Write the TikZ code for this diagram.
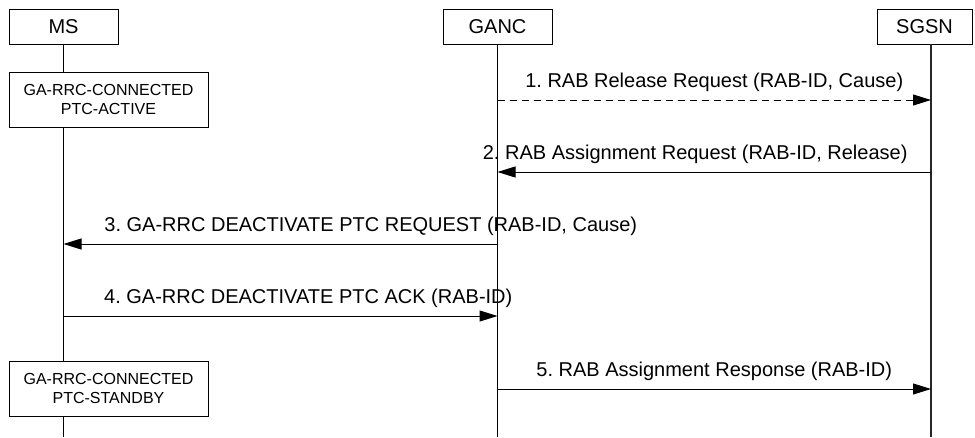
\documentclass[tikz,border=0pt]{standalone}
\usepackage{fontspec}
\setmainfont{Liberation Sans}
\usetikzlibrary{arrows.meta,positioning}
\frenchspacing

\begin{document}
\begin{tikzpicture}[x=1pt,y=-1pt,
  entity/.style={draw, line width=1pt, minimum height=35pt, inner sep=0pt,
    font=\fontsize{20}{24}\selectfont},
  state/.style={draw, fill=white, line width=1pt, minimum width=199pt,
    minimum height=55pt, inner sep=0pt, align=center,
    font=\fontsize{16}{19}\selectfont},
  life/.style={line width=1pt},
  msg/.style={line width=1pt, -{Triangle[length=18pt,width=11pt]}},
  lbl/.style={anchor=base, yshift=12.5pt, font=\fontsize{20}{24}\selectfont}]

  \useasboundingbox (0,0) rectangle (975,437);

  % entities
  \node[entity, minimum width=109pt] (ms) at (63.5,26.5) {MS};
  \node[entity, minimum width=109pt] (ganc) at (497.5,26.5) {GANC};
  \node[entity, minimum width=95pt] (sgsn) at (924.5,26.5) {SGSN};
  \coordinate (sgsnTop) at (931,44);

  % lifelines
  \draw[life] (ms.south) -- (ms.south |- 0,437);
  \draw[life] (ganc.south) -- (ganc.south |- 0,437);
  \draw[life, line width=1.4pt, black!85] (sgsnTop) -- (sgsnTop |- 0,437);

  % states of the MS
  \node[state] (active) at (108.5,99.5) {GA-RRC-CONNECTED\\PTC-ACTIVE};
  \node[state] (standby) at (108.5,388.5) {GA-RRC-CONNECTED\\PTC-STANDBY};

  % messages
  \draw[msg, dash pattern=on 7pt off 5pt] (ganc.south |- 0,100) -- (sgsnTop |- 0,100)
    node[lbl, pos=.5] {1. RAB Release Request (RAB-ID, Cause)};
  \draw[msg] (sgsnTop |- 0,172) -- (ganc.south |- 0,172)
    node[lbl, pos=.544] {2. RAB Assignment Request (RAB-ID, Release)};
  \draw[msg] (ganc.south |- 0,244) -- (ms.south |- 0,244)
    node[lbl, pos=.292] {3. GA-RRC DEACTIVATE PTC REQUEST (RAB-ID, Cause)};
  \draw[msg] (ms.south |- 0,316) -- (ganc.south |- 0,316)
    node[lbl, pos=.564] {4. GA-RRC DEACTIVATE PTC ACK (RAB-ID)};
  \draw[msg] (ganc.south |- 0,389) -- (sgsnTop |- 0,389)
    node[lbl, pos=.5] {5. RAB Assignment Response (RAB-ID)};
\end{tikzpicture}
\end{document}
